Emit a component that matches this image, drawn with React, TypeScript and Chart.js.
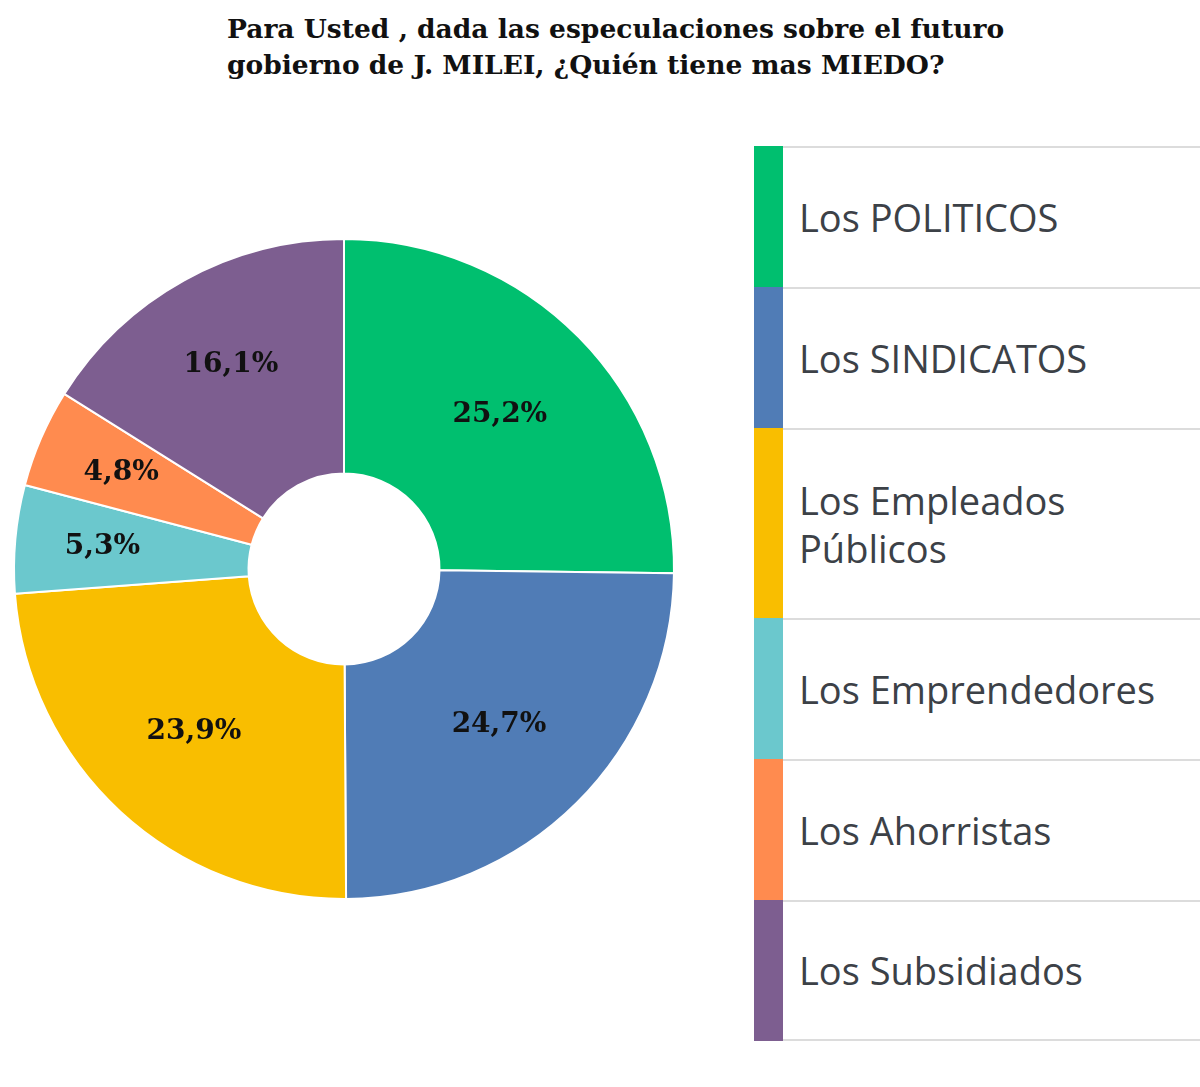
import React, { useEffect, useRef } from "react";
import { Chart, registerables } from "chart.js";

Chart.register(...registerables);

const TITLE_LINES = [
  "Para Usted , dada las especulaciones sobre el futuro",
  "gobierno de J. MILEI, ¿Quién tiene mas MIEDO?",
];

const CATEGORIES = [
  "Los POLITICOS",
  "Los SINDICATOS",
  "Los Empleados Públicos",
  "Los Emprendedores",
  "Los Ahorristas",
  "Los Subsidiados",
];

const SHARES = [25.2, 24.7, 23.9, 5.3, 4.8, 16.1];

const COLORS = ["#00BF6F", "#507CB6", "#F9BE00", "#6BC8CD", "#FF8B4F", "#7D5E90"];

const formatShare = (v: number) => v.toFixed(1).replace(".", ",") + "%";

// Writes each share near the centroid of its ring segment.
const sliceLabels = {
  id: "sliceLabels",
  afterDatasetsDraw(chart: any) {
    const { ctx } = chart;
    const meta = chart.getDatasetMeta(0);
    const values = chart.data.datasets[0].data as number[];
    ctx.save();
    ctx.font = "bold 28px 'DejaVu Serif'";
    ctx.fillStyle = "#111111";
    ctx.textAlign = "center";
    ctx.textBaseline = "middle";
    meta.data.forEach((arc: any, i: number) => {
      const { x, y, startAngle, endAngle, innerRadius, outerRadius } = arc.getProps(
        ["x", "y", "startAngle", "endAngle", "innerRadius", "outerRadius"],
        true
      );
      const mid = (startAngle + endAngle) / 2;
      const half = (endAngle - startAngle) / 2;
      const R = outerRadius;
      const r0 = innerRadius;
      const centroid =
        ((2 / 3) * (R * R * R - r0 * r0 * r0)) / (R * R - r0 * r0) * (Math.sin(half) / half);
      const r = centroid * 1.04;
      ctx.fillText(formatShare(values[i]), x + Math.cos(mid) * r, y + Math.sin(mid) * r);
    });
    ctx.restore();
  },
};

export default function App() {
  const canvasRef = useRef<HTMLCanvasElement | null>(null);

  useEffect(() => {
    document.body.style.margin = "0";
    const canvas = canvasRef.current;
    if (!canvas) return;
    const chart = new Chart(canvas, {
      type: "doughnut",
      data: {
        labels: CATEGORIES,
        datasets: [
          {
            data: SHARES,
            backgroundColor: COLORS,
            borderColor: "#ffffff",
            borderWidth: 2,
          },
        ],
      },
      options: {
        animation: false,
        responsive: false,
        radius: 330,
        cutout: 101,
        layout: { padding: 0 },
        plugins: {
          legend: { display: false },
          tooltip: { enabled: false },
          title: { display: false },
        },
      },
      plugins: [sliceLabels],
    });
    return () => chart.destroy();
  }, []);

  return (
    <div
      style={{
        position: "absolute",
        left: 0,
        top: 0,
        width: 1200,
        height: 1087,
        overflow: "hidden",
        background: "#ffffff",
      }}
    >
      <div
        style={{
          position: "absolute",
          left: 227,
          top: 11,
          fontFamily: "'DejaVu Serif', serif",
          fontWeight: "bold",
          fontSize: 26.5,
          lineHeight: "36px",
          color: "#111111",
          whiteSpace: "nowrap",
        }}
      >
        {TITLE_LINES.map((t) => (
          <div key={t}>{t}</div>
        ))}
      </div>

      <canvas
        ref={canvasRef}
        width={700}
        height={700}
        style={{ position: "absolute", left: -6, top: 219, width: 700, height: 700 }}
      />

      <div style={{ position: "absolute", left: 754, top: 146, width: 460 }}>
        {CATEGORIES.map((name, i) => (
          <div key={name} style={{ display: "flex", alignItems: "stretch" }}>
            <div style={{ width: 29, background: COLORS[i], flex: "none" }} />
            <div
              style={{
                flex: 1,
                borderTop: "2px solid #dcdcdc",
                borderBottom: i === CATEGORIES.length - 1 ? "2px solid #dcdcdc" : "none",
                padding: i === 2 ? "46px 0 46px 16px" : i === 5 ? "44px 0 45px 16px" : "45px 0 46px 16px",
                fontFamily: "'Open Sans', sans-serif",
                fontSize: 38,
                lineHeight: "48px",
                color: "#3c4147",
              }}
            >
              <div style={{ maxWidth: 380 }}>{name}</div>
            </div>
          </div>
        ))}
      </div>
    </div>
  );
}
